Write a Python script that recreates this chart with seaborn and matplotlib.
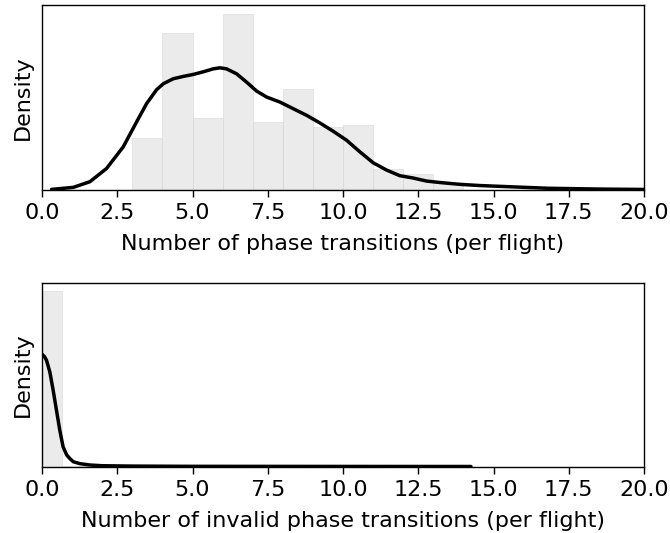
import numpy as np
import pandas as pd
import seaborn as sns
import matplotlib
matplotlib.use("Agg")
import matplotlib.pyplot as plt

# ---- data ----
# Top panel: histogram (density) of phase transitions per flight, unit bins
phase_bin_left = [3, 4, 5, 6, 7, 8, 9, 10, 11, 12, 13]
phase_density = [0.065, 0.197, 0.090, 0.221, 0.085, 0.126, 0.079, 0.081, 0.026, 0.020, 0.009]
phase_kde_x = [0.318, 1.038, 1.591, 2.145, 2.699, 3.142, 3.474, 3.806, 4.028, 4.360,
               4.692, 5.024, 5.357, 5.689, 5.910, 6.132, 6.464, 6.796, 7.128, 7.461,
               7.904, 8.346, 8.789, 9.233, 9.675, 10.118, 10.561, 11.004, 11.447,
               11.890, 12.333, 12.776, 13.219, 13.884, 14.548, 15.54, 16.8, 18.5, 20.0]
phase_kde_y = [0.0008, 0.0033, 0.0104, 0.0270, 0.0541, 0.0853, 0.1082, 0.1256, 0.1331,
               0.1394, 0.1423, 0.1448, 0.1481, 0.1518, 0.1531, 0.1518, 0.1456, 0.1352,
               0.1240, 0.1165, 0.1102, 0.1019, 0.0936, 0.0840, 0.0736, 0.0624, 0.0478,
               0.0341, 0.0250, 0.0179, 0.0150, 0.0112, 0.0094, 0.0071, 0.0056, 0.0041,
               0.0022, 0.0012, 0.0007]

# Bottom panel: invalid phase transitions per flight, bins of width 2/3
invalid_bin_left = [0.0, 2 / 3, 4 / 3, 2.0]
invalid_density = [1.45, 0.006, 0.002, 0.001]
invalid_kde_x = [0.0, 0.08, 0.15, 0.26, 0.37, 0.48, 0.59, 0.70, 0.82, 0.93, 1.04, 1.26,
                 1.59, 2.0, 3.0, 5.0, 8.0, 11.0, 14.25]
invalid_kde_y = [0.930, 0.912, 0.880, 0.784, 0.633, 0.468, 0.303, 0.165, 0.097, 0.066,
                 0.041, 0.025, 0.014, 0.008, 0.005, 0.003, 0.0025, 0.002, 0.0017]

x_ticks = [0.0, 2.5, 5.0, 7.5, 10.0, 12.5, 15.0, 17.5, 20.0]
x_labels = ["0.0", "2.5", "5.0", "7.5", "10.0", "12.5", "15.0", "17.5", "20.0"]

sns.set_style("white")
plt.rcParams["font.family"] = ["DejaVu Sans"]
plt.rcParams["axes.edgecolor"] = "black"
plt.rcParams["axes.linewidth"] = 1.0
plt.rcParams["text.color"] = "black"
plt.rcParams["axes.labelcolor"] = "black"
plt.rcParams["xtick.color"] = "black"

fig = plt.figure(figsize=(6.7, 5.33), dpi=100)
ax1 = fig.add_axes([0.0627, 0.6435, 0.8985, 0.3475])
ax2 = fig.add_axes([0.0627, 0.1244, 0.8985, 0.3452])

FS = 16


def panel(ax, bin_left, dens, width, kx, ky, xlabel):
    edges = list(bin_left) + [bin_left[-1] + width]
    centers = [b + width / 2 for b in bin_left]
    sns.histplot(x=centers, weights=dens, bins=edges, stat="count", ax=ax,
                 color="#cccccc", alpha=0.38, edgecolor="#d8d8d8", linewidth=0.4)
    sns.lineplot(x=kx, y=ky, ax=ax, color="black", linewidth=2.5)
    for ln in ax.lines:
        ln.set_solid_joinstyle("round")
        ln.set_solid_capstyle("round")
    ax.set_xlim(0, 20)
    ax.set_ylim(0, max(dens) * 1.05)
    ax.set_yticks([])
    ax.set_xticks(x_ticks)
    ax.set_xticklabels(x_labels, fontsize=FS, color="black")
    ax.tick_params(axis="x", direction="out", length=5, width=1, color="black",
                   bottom=True, pad=4.5)
    ax.set_xlabel(xlabel, fontsize=FS, color="black", labelpad=8)
    ax.set_ylabel("Density", fontsize=FS, color="black", labelpad=6.5)
    for s in ax.spines.values():
        s.set_visible(True)
        s.set_color("black")


panel(ax1, phase_bin_left, phase_density, 1.0, phase_kde_x, phase_kde_y,
      "Number of phase transitions (per flight)")
panel(ax2, invalid_bin_left, invalid_density, 2 / 3, invalid_kde_x, invalid_kde_y,
      "Number of invalid phase transitions (per flight)")

fig.savefig("out.png", dpi=100)
